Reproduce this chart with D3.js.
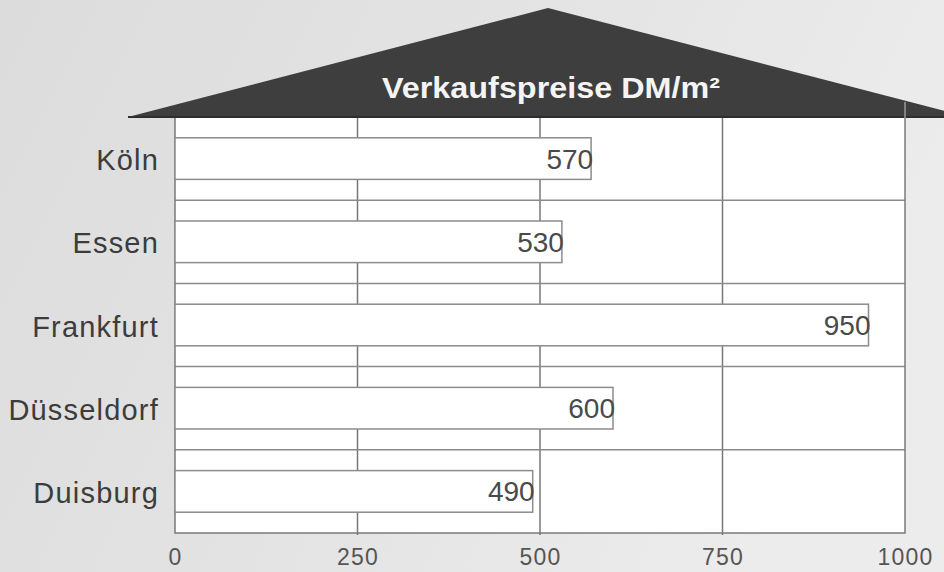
<!DOCTYPE html>
<html>
<head>
<meta charset="utf-8">
<script src="https://cdn.jsdelivr.net/npm/d3@7"></script>
<style>
  html, body { margin: 0; padding: 0; background: #e4e4e4; }
  svg { display: block; }
</style>
</head>
<body>
<svg id="chart" width="944" height="572"></svg>
<script>
// ---- data ----
const cities = ["Köln", "Essen", "Frankfurt", "Düsseldorf", "Duisburg"];
const prices = [570, 530, 950, 600, 490];
const tickValues = [0, 250, 500, 750, 1000];
const titleText = "Verkaufspreise DM/m²";

const W = 944, H = 572;
const margin = { top: 117, right: 39, bottom: 39, left: 175 };
const svg = d3.select("#chart");

// background (scanned paper look)
const defs = svg.append("defs");
const grad = defs.append("linearGradient").attr("id", "bg").attr("x1", "0").attr("x2", "1").attr("y1", "0").attr("y2", "0.3");
grad.append("stop").attr("offset", "0").attr("stop-color", "#dcdcdc");
grad.append("stop").attr("offset", "0.5").attr("stop-color", "#e3e3e3");
grad.append("stop").attr("offset", "1").attr("stop-color", "#ececec");
svg.append("rect").attr("width", W).attr("height", H).attr("fill", "url(#bg)");

const x = d3.scaleLinear().domain([0, 1000]).range([margin.left, W - margin.right]);
const y = d3.scaleBand().domain(cities).range([margin.top, H - margin.bottom])
  .paddingInner(0.5).paddingOuter(0.25);

const x0 = x(0), x1 = x(1000), y0 = margin.top, y1 = H - margin.bottom;

// plot area white
svg.append("rect").attr("x", x0).attr("y", y0).attr("width", x1 - x0).attr("height", y1 - y0)
  .attr("fill", "#ffffff");

// vertical grid lines
svg.append("g").selectAll("line").data(tickValues.slice(1, -1)).join("line")
  .attr("x1", d => x(d)).attr("x2", d => x(d)).attr("y1", y0).attr("y2", y1 + 2)
  .attr("stroke", "#777").attr("stroke-width", 1.5);

// horizontal row boundaries
const boundaries = cities.slice(1).map(c => y(c) - y.step() * y.paddingInner() / 2);
svg.append("g").selectAll("line").data(boundaries).join("line")
  .attr("x1", x0).attr("x2", x1).attr("y1", d => d).attr("y2", d => d)
  .attr("stroke", "#8a8a8a").attr("stroke-width", 1.5);

// frame
svg.append("rect").attr("x", x0).attr("y", y0).attr("width", x1 - x0).attr("height", y1 - y0)
  .attr("fill", "none").attr("stroke", "#7a7a7a").attr("stroke-width", 1.5);

// bars
svg.append("g").selectAll("rect").data(cities).join("rect")
  .attr("x", x0).attr("y", d => y(d))
  .attr("width", (d, i) => x(prices[i]) - x0).attr("height", y.bandwidth())
  .attr("fill", "#ffffff").attr("stroke", "#8c8c8c").attr("stroke-width", 1.5);

// value labels
svg.append("g").selectAll("text").data(cities).join("text")
  .attr("x", (d, i) => x(prices[i]) + 2)
  .attr("y", d => y(d) + y.bandwidth() / 2)
  .attr("dy", "0.36em")
  .attr("text-anchor", "end")
  .attr("font-family", "'Liberation Sans', Arial, sans-serif")
  .attr("font-size", 28)
  .attr("fill", "#4a4a4a")
  .text((d, i) => prices[i]);

// roof
const apexX = (x0 - 47 + x1 + 63) / 2;
svg.append("path")
  .attr("d", `M${x0 - 47},${y0} L${apexX},${y0 - 109} L${x1 + 63},${y0} Z`)
  .attr("fill", "#3e3e3e");
svg.append("line").attr("x1", x0 - 47).attr("x2", W).attr("y1", y0).attr("y2", y0)
  .attr("stroke", "#2e2e2e").attr("stroke-width", 2);
// right border line poking through roof
svg.append("line").attr("x1", x1).attr("x2", x1).attr("y1", y0 - 15).attr("y2", y0 + 2)
  .attr("stroke", "#9a9a9a").attr("stroke-width", 1.5);

// title
svg.append("text")
  .attr("x", apexX + 3).attr("y", 98)
  .attr("text-anchor", "middle")
  .attr("font-family", "'Liberation Sans', Arial, sans-serif")
  .attr("font-weight", "bold")
  .attr("font-size", 29)
  .attr("textLength", 338).attr("lengthAdjust", "spacingAndGlyphs")
  .attr("fill", "#f4f4f4")
  .text(titleText);

// category axis
const yAxis = svg.append("g").attr("transform", `translate(${x0},0)`)
  .call(d3.axisLeft(y).tickSize(0).tickPadding(16));
yAxis.select(".domain").remove();
yAxis.selectAll("text")
  .attr("dy", "0.4em")
  .attr("font-family", "'Liberation Sans', Arial, sans-serif")
  .attr("font-size", 29)
  .attr("letter-spacing", 1.2)
  .attr("fill", "#3c3c3c");

// value axis
const xAxis = svg.append("g").attr("transform", `translate(0,${y1})`)
  .call(d3.axisBottom(x).tickValues(tickValues).tickSize(0).tickPadding(16).tickFormat(d3.format("d")));
xAxis.select(".domain").remove();
xAxis.selectAll("text")
  .attr("font-family", "'Liberation Sans', Arial, sans-serif")
  .attr("font-size", 23)
  .attr("letter-spacing", 1.2)
  .attr("fill", "#555");
</script>
</body>
</html>
